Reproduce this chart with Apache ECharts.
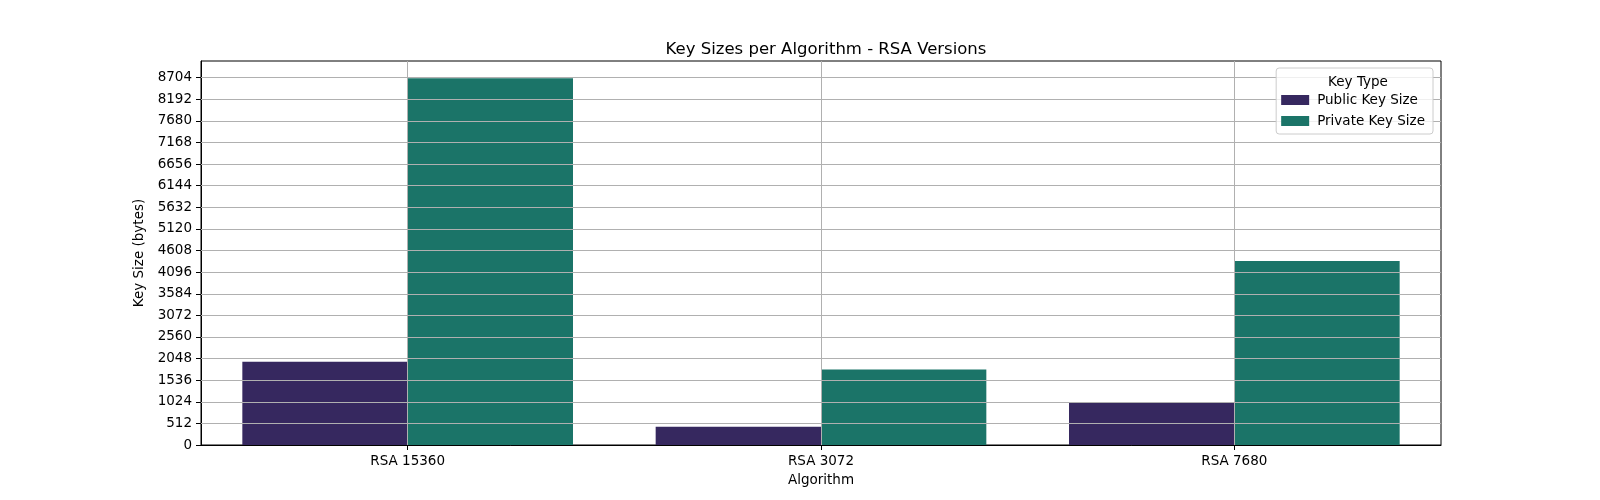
<!DOCTYPE html>
<html>
<head>
<meta charset="utf-8">
<script src="https://cdn.jsdelivr.net/npm/echarts@6/dist/echarts.min.js"></script>
<style>
html,body{margin:0;padding:0;background:#fff;}
#chart{width:1600px;height:500px;}
</style>
</head>
<body>
<div id="chart"></div>
<script>
const categories = ['RSA 15360', 'RSA 3072', 'RSA 7680'];
const publicKeySize = [1970, 430, 1010];
const privateKeySize = [8690, 1790, 4360];
const yTicks = [0, 512, 1024, 1536, 2048, 2560, 3072, 3584, 4096, 4608, 5120, 5632, 6144, 6656, 7168, 7680, 8192, 8704];
const seriesNames = ['Public Key Size', 'Private Key Size'];

const FONT = 'DejaVu Sans';
const chart = echarts.init(document.getElementById('chart'), null, {renderer: 'canvas'});

const gridLineStyle = {color: '#b0b0b0', width: 1, type: 'solid'};
const option = {
  animation: false,
  backgroundColor: '#fff',
  textStyle: {fontFamily: FONT},
  title: [{
    text: 'Key Sizes per Algorithm - RSA Versions',
    left: 821, top: 36, textAlign: 'center',
    textStyle: {fontFamily: FONT, fontSize: 16.5, fontWeight: 'normal', color: '#000'}
  }, {
    text: 'Key Type',
    left: 1353, top: 70, textAlign: 'center', z: 30,
    textStyle: {fontFamily: FONT, fontSize: 13.5, fontWeight: 'normal', color: '#000'}
  }],
  legend: {
    orient: 'vertical',
    right: 167, top: 68,
    width: 148,
    z: 20,
    padding: [25, 8, 6, 5],
    itemGap: 7,
    itemWidth: 28, itemHeight: 10,
    icon: 'rect',
    borderColor: '#cccccc', borderWidth: 1, borderRadius: 3,
    backgroundColor: 'rgba(255,255,255,0.8)',
    textStyle: {fontFamily: FONT, fontSize: 13.5, color: '#000', padding: [0, 0, 0, 3]},
    data: seriesNames
  },
  grid: {
    left: 201, right: 159, top: 61, bottom: 55,
    show: true, borderColor: '#000', borderWidth: 1, backgroundColor: 'transparent',
    containLabel: false
  },
  xAxis: {
    type: 'category',
    data: categories,
    boundaryGap: true,
    name: 'Algorithm', nameLocation: 'middle', nameGap: 28,
    nameTextStyle: {fontFamily: FONT, fontSize: 13.5, color: '#000'},
    axisLine: {show: true, lineStyle: {color: '#000', width: 1}},
    axisTick: {show: true, alignWithLabel: true, length: 5, lineStyle: {color: '#000'}},
    axisLabel: {fontFamily: FONT, fontSize: 13.5, color: '#000', margin: 9},
    splitLine: {show: false}
  },
  yAxis: {
    type: 'value',
    min: 0, max: 9100, interval: 512,
    name: 'Key Size (bytes)', nameLocation: 'middle', nameGap: 53, nameRotate: 90,
    nameTextStyle: {fontFamily: FONT, fontSize: 13.5, color: '#000'},
    axisLine: {show: true, lineStyle: {color: '#000', width: 1}},
    axisTick: {show: true, length: 5, lineStyle: {color: '#000'}, customValues: yTicks},
    axisLabel: {fontFamily: FONT, fontSize: 13.5, color: '#000', margin: 9, customValues: yTicks,
      formatter: v => String(v)},
    splitLine: {show: false}
  },
  series: [{
    name: seriesNames[0],
    type: 'bar',
    data: publicKeySize,
    barWidth: '40%',
    barGap: '0%',
    itemStyle: {color: '#36285f'}
  }, {
    name: seriesNames[1],
    type: 'bar',
    data: privateKeySize,
    barWidth: '40%',
    barGap: '0%',
    itemStyle: {color: '#1b7468'}
  }, {
    name: 'grid',
    type: 'line',
    data: [],
    silent: true,
    markLine: {
      silent: true,
      symbol: ['none', 'none'],
      label: {show: false},
      lineStyle: gridLineStyle,
      emphasis: {disabled: true},
      z: 10,
      data: yTicks.filter(v => v > 0).map(v => ({yAxis: v})).concat(categories.map(c => ({xAxis: c})))
    }
  }]
};
chart.setOption(option);
</script>
</body>
</html>
